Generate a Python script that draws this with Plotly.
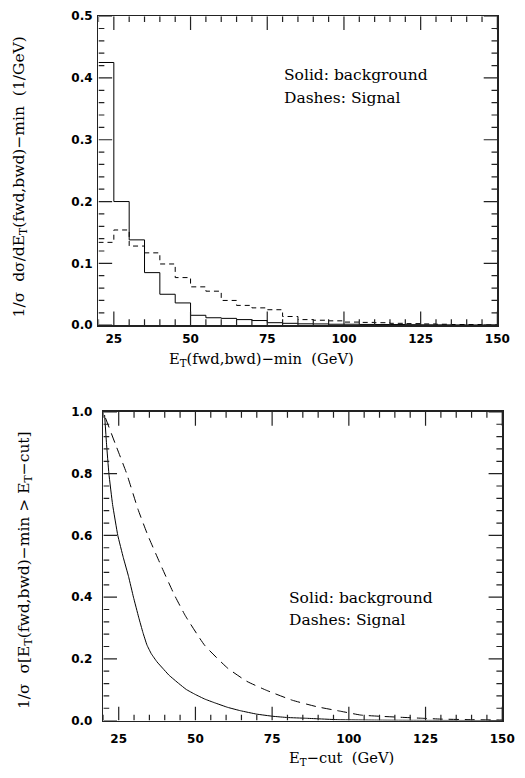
import plotly.graph_objects as go

# ---- Top panel: differential distributions (5 GeV bins, 20-150 GeV)
bin_edges = [20, 25, 30, 35, 40, 45, 50, 55, 60, 65, 70, 75, 80, 85, 90, 95,
             100, 105, 110, 115, 120, 125, 130, 135, 140, 145, 150]
hist_background = [0.425, 0.200, 0.138, 0.085, 0.050, 0.036, 0.016, 0.012, 0.011,
                   0.009, 0.0075, 0.004, 0.003, 0.0022, 0.002, 0.0015, 0.0015,
                   0.0012, 0.001, 0.001, 0.0008, 0.0006, 0.0005, 0.0004, 0.0003, 0.0002]
hist_signal = [0.134, 0.154, 0.128, 0.117, 0.099, 0.077, 0.062, 0.055, 0.040,
               0.032, 0.028, 0.025, 0.014, 0.009, 0.008, 0.007, 0.005, 0.0045,
               0.004, 0.003, 0.0025, 0.002, 0.0015, 0.001, 0.001, 0.0006]

# ---- Bottom panel: cumulative fractions above cut
cut_background = [20.4, 21.0, 21.8, 23.0, 24.7, 26.5, 28.2, 29.8, 31.5, 32.9, 34.2,
                  35.6, 37.5, 39.3, 41.4, 44.6, 47.0, 49.9, 53.0, 56.2, 60.5, 64.7,
                  70.0, 75.3, 80.0, 85.9, 96.5, 110.0, 125.0, 150.0]
frac_background = [0.99, 0.90, 0.80, 0.70, 0.60, 0.528, 0.467, 0.40, 0.335, 0.285, 0.245,
                   0.217, 0.19, 0.17, 0.147, 0.12, 0.101, 0.085, 0.07, 0.058, 0.043,
                   0.032, 0.021, 0.014, 0.01, 0.0077, 0.003, 0.0015, 0.0008, 0.0003]
cut_signal = [20.7, 23.9, 27.6, 31.3, 34.5, 38.7, 43.0, 46.7, 53.0, 60.5, 66.8, 73.2,
              81.6, 89.6, 97.5, 103.9, 110.2, 116.6, 124.0, 130.0, 140.0, 150.0]
frac_signal = [0.98, 0.896, 0.80, 0.684, 0.60, 0.504, 0.41, 0.34, 0.244, 0.17, 0.127,
               0.098, 0.066, 0.045, 0.03, 0.018, 0.014, 0.011, 0.0076, 0.005, 0.003, 0.002]

# ---- Axis tick values
x_range = [20, 150]
y1_range = [0, 0.5]
y2_range = [0, 1.0]
x_major = [25, 50, 75, 100, 125, 150]
x_minor = [v for v in range(20, 151, 5) if v % 25 != 0]
y1_major = [0.0, 0.1, 0.2, 0.3, 0.4, 0.5]
y1_minor = [i * 0.02 for i in range(26) if i % 5 != 0]
y2_major = [0.0, 0.2, 0.4, 0.6, 0.8, 1.0]
y2_minor = [i * 0.04 for i in range(26) if i % 5 != 0]

W, H = 525, 778
# panel frames in pixels (left, right, top, bottom)
P1 = (101, 510, 9.3, 324)
P2 = (106, 515, 412.3, 726.7)

fig = go.Figure()

fig.add_trace(go.Scatter(x=bin_edges, y=hist_background + [hist_background[-1]],
                         mode="lines", line_shape="hv", hoverinfo="skip",
                         line=dict(color="black", width=1), xaxis="x", yaxis="y"))
fig.add_trace(go.Scatter(x=bin_edges, y=hist_signal + [hist_signal[-1]],
                         mode="lines", line_shape="hv", hoverinfo="skip",
                         line=dict(color="black", width=1, dash="5px,4px"),
                         xaxis="x", yaxis="y"))
fig.add_trace(go.Scatter(x=cut_background, y=frac_background, mode="lines",
                         hoverinfo="skip",
                         line=dict(color="black", width=1, shape="spline", smoothing=0.3),
                         xaxis="x2", yaxis="y2"))
fig.add_trace(go.Scatter(x=cut_signal, y=frac_signal, mode="lines", hoverinfo="skip",
                         line=dict(color="black", width=1, dash="10px,6px",
                                   shape="spline", smoothing=0.4),
                         xaxis="x2", yaxis="y2"))


# ---- inside tick marks on all four sides, drawn in axis units
def tick_trace(xa, ya, panel, yr, xvals, yvals, length_px):
    left, right, top, bottom = panel
    dx = length_px * (x_range[1] - x_range[0]) / (right - left)
    dy = length_px * (yr[1] - yr[0]) / (bottom - top)
    xs, ys = [], []
    for v in xvals:
        xs += [v, v, None, v, v, None]
        ys += [yr[0], yr[0] + dy, None, yr[1], yr[1] - dy, None]
    for v in yvals:
        xs += [x_range[0], x_range[0] + dx, None, x_range[1], x_range[1] - dx, None]
        ys += [v, v, None, v, v, None]
    return go.Scatter(x=xs, y=ys, mode="lines", hoverinfo="skip", cliponaxis=False,
                      line=dict(color="#222", width=1.2), xaxis=xa, yaxis=ya)


fig.add_trace(tick_trace("x", "y", P1, y1_range, x_major, y1_major, 14))
fig.add_trace(tick_trace("x", "y", P1, y1_range, x_minor, y1_minor, 6))
fig.add_trace(tick_trace("x2", "y2", P2, y2_range, x_major, y2_major, 14))
fig.add_trace(tick_trace("x2", "y2", P2, y2_range, x_minor, y2_minor, 6))

tickfont = dict(family="DejaVu Sans", size=12, color="black", weight="bold")
frame = dict(showline=True, linecolor="#222", linewidth=1.5, mirror=True,
             ticks="", showgrid=False, zeroline=False, tickfont=tickfont,
             fixedrange=True)

fig.update_layout(
    width=W, height=H, margin=dict(l=0, r=0, t=0, b=0),
    paper_bgcolor="white", plot_bgcolor="white", showlegend=False,
    hovermode=False,
    xaxis=dict(domain=[P1[0] / W, P1[1] / W], range=x_range, anchor="y",
               tickvals=x_major, ticklabelstandoff=2, **frame),
    yaxis=dict(domain=[1 - P1[3] / H, 1 - P1[2] / H], range=y1_range, anchor="x",
               tickvals=y1_major, tickformat=".1f", ticklabelstandoff=2, **frame),
    xaxis2=dict(domain=[P2[0] / W, P2[1] / W], range=x_range, anchor="y2",
                tickvals=x_major, ticklabelstandoff=6, **frame),
    yaxis2=dict(domain=[1 - P2[3] / H, 1 - P2[2] / H], range=y2_range, anchor="x2",
                tickvals=y2_major, tickformat=".1f", ticklabelstandoff=7, **frame),
)

nfont = dict(family="DejaVu Serif", size=15.5, color="black")
xtfont = dict(family="DejaVu Serif", size=14.7, color="black")
ytfont = dict(family="DejaVu Serif", size=15.5, color="black")
ann = [
    dict(x=79.8, y=0.405, xref="x", yref="y", text="Solid: background",
         xanchor="left", yanchor="middle", showarrow=False, font=nfont),
    dict(x=79.8, y=0.367, xref="x", yref="y", text="Dashes: Signal",
         xanchor="left", yanchor="middle", showarrow=False, font=nfont),
    dict(x=79.8, y=0.396, xref="x2", yref="y2", text="Solid: background",
         xanchor="left", yanchor="middle", showarrow=False, font=nfont),
    dict(x=79.8, y=0.325, xref="x2", yref="y2", text="Dashes: Signal",
         xanchor="left", yanchor="middle", showarrow=False, font=nfont),
    dict(x=268 / W, y=1 - 359 / H, xref="paper", yref="paper",
         text="E<sub>T</sub>(fwd,bwd)−min  (GeV)", showarrow=False,
         xanchor="center", yanchor="middle", font=xtfont),
    dict(x=350 / W, y=1 - 765 / H, xref="paper", yref="paper",
         text="E<sub>T</sub>−cut  (GeV)", showarrow=False,
         xanchor="center", yanchor="middle", font=xtfont),
    dict(x=20 / W, y=1 - 173 / H, xref="paper", yref="paper", textangle=-90,
         text="1/σ  dσ/dE<sub>T</sub>(fwd,bwd)−min  (1/GeV)", showarrow=False,
         xanchor="center", yanchor="middle", font=ytfont),
    dict(x=25 / W, y=1 - 573 / H, xref="paper", yref="paper", textangle=-90,
         text="1/σ  σ[E<sub>T</sub>(fwd,bwd)−min > E<sub>T</sub>−cut]", showarrow=False,
         xanchor="center", yanchor="middle", font=ytfont),
]
fig.update_layout(annotations=ann)

fig.write_html("out.html", config={"displayModeBar": False, "staticPlot": True},
               post_script="document.body.style.margin='0px';")
